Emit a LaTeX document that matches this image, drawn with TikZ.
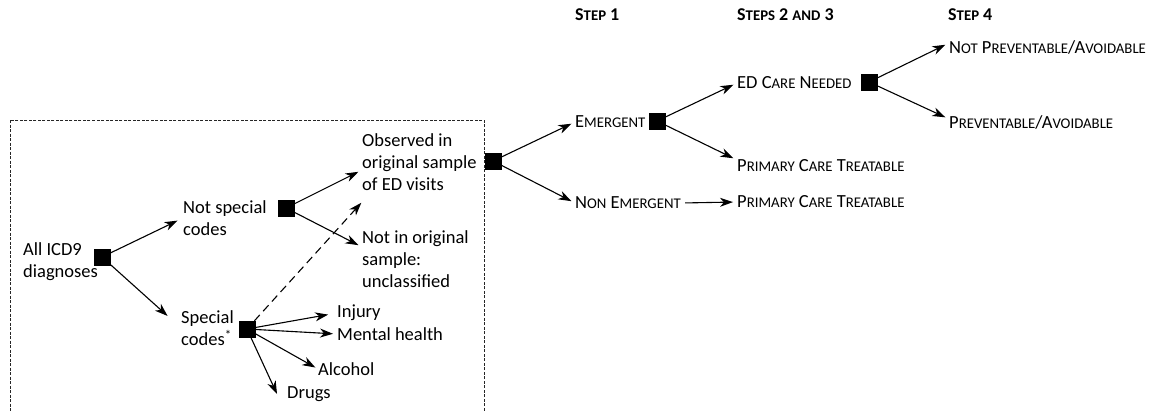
\documentclass[tikz,border=0pt]{standalone}
\usepackage{fontspec}
\setmainfont{Carlito}
\usetikzlibrary{arrows.meta}
\newcommand{\sm}[1]{{\fontsize{14.8}{22}\selectfont #1}}

\begin{document}
\begin{tikzpicture}[x=1pt,y=-1pt]
  \tikzstyle{every node}=[inner sep=0pt,font=\fontsize{18.5}{22}\selectfont]
  \tikzstyle{box}=[draw,fill=black,minimum size=16pt,inner sep=0pt]
  \tikzstyle{txt}=[anchor=west,align=left]
  \tikzstyle{head}=[anchor=west,font=\fontsize{18}{22}\selectfont\bfseries]
  \tikzstyle{arrow}=[-{Stealth[length=13pt,width=9pt,inset=4pt]},line width=1.1pt,shorten >=4pt]

  \useasboundingbox (0,0) rectangle (1153,410);

  % Define the dashed frame
  \draw[dash pattern=on 3pt off 1.5pt,black!85,line width=0.8pt] (10,120) rectangle (484,440);

  % Define the step headings
  \node[head] (h1) at (575,15) {S\sm{TEP} 1};
  \node[head] (h2) at (737,15) {S\sm{TEPS} 2 \sm{AND} 3};
  \node[head] (h4) at (948,15) {S\sm{TEP} 4};

  % Define the decision squares
  \node[box] (sqAll) at (102,257) {};
  \node[box] (sqNot) at (286,208) {};
  \node[box] (sqSpec) at (247,329) {};
  \node[box] (sqObs) at (493,161) {};
  \node[box] (sqEm) at (657,121) {};
  \node[box] (sqED) at (869,82) {};

  % Define the texts
  \node[txt] (nAll) at (23,262) {All ICD9\\diagnoses};
  \node[txt] (nNot) at (183,218) {Not special\\codes};
  \node[txt] (nSpec) at (181,328) {Special\\codes\textsuperscript{*}};
  \node[txt] (nObs) at (362,162) {Observed in\\original sample\\of ED visits};
  \node[txt] (nNotIn) at (362,259) {Not in original\\sample:\\unclassified};
  \node[txt] (nInj) at (337,313) {Injury};
  \node[txt] (nMent) at (337,334) {Mental health};
  \node[txt] (nAlc) at (318,369) {Alcohol};
  \node[txt] (nDrugs) at (287,394) {Drugs};
  \node[txt] (nEm) at (575,122) {E\sm{MERGENT}};
  \node[txt] (nNonEm) at (575,203) {N\sm{ON} E\sm{MERGENT}};
  \node[txt] (nED) at (737,83) {ED C\sm{ARE} N\sm{EEDED}};
  \node[txt] (nPC1) at (737,166) {P\sm{RIMARY} C\sm{ARE} T\sm{REATABLE}};
  \node[txt] (nPC2) at (737,202) {P\sm{RIMARY} C\sm{ARE} T\sm{REATABLE}};
  \node[txt] (nNotPrev) at (949,47) {N\sm{OT} P\sm{REVENTABLE}/A\sm{VOIDABLE}};
  \node[txt] (nPrev) at (949,122) {P\sm{REVENTABLE}/A\sm{VOIDABLE}};

  % Draw the branches inside the frame
  \draw[arrow,shorten >=6pt] (sqAll) -- (nNot.west);
  \draw[arrow,shorten >=18pt] (sqAll) -- (nSpec.west);
  \draw[arrow] (sqNot) -- ([yshift=-8pt]nObs.west);
  \draw[arrow] (sqNot) -- ([yshift=12pt]nNotIn.west);
  \draw[arrow,dash pattern=on 8pt off 5pt,shorten >=1pt] (sqSpec) -- ([yshift=-40pt]nObs.west);
  \foreach \t/\s in {nInj/9, nMent/4, nAlc/3} {
    \draw[arrow,shorten >=\s pt] (sqSpec) -- (\t.west);
  }
  \draw[arrow,shorten >=0pt] (sqSpec) -- ([xshift=-10pt]nDrugs.west);

  % Draw the steps
  \draw[arrow] (sqObs) -- (nEm.west);
  \draw[arrow] (sqObs) -- (nNonEm.west);
  \draw[arrow] (sqEm) -- (nED.west);
  \draw[arrow] (sqEm) -- ([yshift=6pt]nPC1.west);
  \draw[arrow,shorten <=4pt] (nNonEm.east) -- (nPC2.west);
  \draw[arrow] (sqED) -- ([yshift=4pt]nNotPrev.west);
  \draw[arrow] (sqED) -- ([yshift=3pt]nPrev.west);
\end{tikzpicture}
\end{document}
